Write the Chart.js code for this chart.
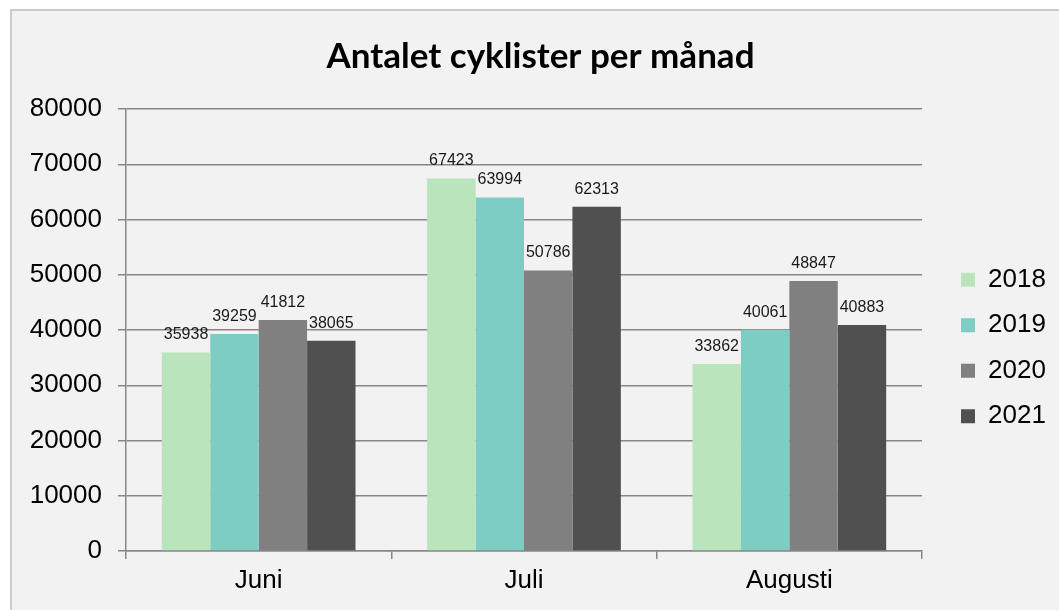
<!DOCTYPE html>
<html>
<head>
<meta charset="utf-8">
<script src="https://cdn.jsdelivr.net/npm/chart.js@4"></script>
<style>
  html, body { margin: 0; padding: 0; background: #fff; overflow: hidden; }
  #frame { position: absolute; left: 10px; top: 9px; width: 1200px; height: 800px; border: 2px solid #cbcbcb; background: #f2f2f2; }
  #chart { position: absolute; left: 0; top: 0; }
</style>
</head>
<body>
<div id="frame"></div>
<canvas id="chart" width="1059" height="610"></canvas>
<script>
const months = ["Juni", "Juli", "Augusti"]
const years = ["2018", "2019", "2020", "2021"]
const values2018 = [35938, 67423, 33862]
const values2019 = [39259, 63994, 40061]
const values2020 = [41812, 50786, 48847]
const values2021 = [38065, 62313, 40883]
const yMin = 0
const yMax = 80000
const yStep = 10000

const colors = ["#b9e4bc", "#7dcdc4", "#808080", "#505050"]
const gridColor = "#878787"
const textFont = "'Liberation Sans', Arial, sans-serif"

// värden ovanför staplarna
const barLabels = {
  id: "barLabels",
  afterDatasetsDraw(chart) {
    const ctx = chart.ctx
    ctx.save()
    ctx.font = "16px " + textFont
    ctx.fillStyle = "#1a1a1a"
    ctx.textAlign = "center"
    ctx.textBaseline = "alphabetic"
    chart.data.datasets.forEach((ds, i) => {
      chart.getDatasetMeta(i).data.forEach((bar, j) => {
        ctx.fillText(String(ds.data[j]), bar.x, bar.y - 13)
      })
    })
    ctx.restore()
  },
}

// flytta legenden och rubriken lite
const boxPlace = {
  id: "boxPlace",
  afterLayout(chart) {
    const lg = chart.legend
    const dx = 961 - lg.left - lg.options.labels.padding
    lg.left += dx
    lg.right += dx
    lg.top += 18
    lg.bottom += 18

    const t = chart.titleBlock
    const tx = 540.5 - (t.left + t.right) / 2
    t.left += tx
    t.right += tx
  },
}

const chart = new Chart(document.querySelector("#chart"), {
  type: "bar",
  data: {
    labels: months,
    datasets: [
      { label: years[0], data: values2018, backgroundColor: colors[0] },
      { label: years[1], data: values2019, backgroundColor: colors[1] },
      { label: years[2], data: values2020, backgroundColor: colors[2] },
      { label: years[3], data: values2021, backgroundColor: colors[3] },
    ],
  },
  options: {
    responsive: false,
    animation: false,
    categoryPercentage: 0.73,
    barPercentage: 1.0,
    layout: { padding: { left: 22, right: 0, top: 0, bottom: 0 } },
    plugins: {
      tooltip: { enabled: false },
      title: {
        display: true,
        text: "Antalet cyklister per månad",
        color: "#000",
        font: { family: "Lato", weight: "bold", size: 35 },
        padding: { top: 36, bottom: 31 },
      },
      legend: {
        position: "right",
        fullSize: false,
        labels: {
          boxWidth: 14,
          boxHeight: 14,
          padding: 19.5,
          color: "#000",
          font: { family: textFont, size: 26 },
        },
      },
    },
    scales: {
      x: {
        grid: { drawOnChartArea: false, drawTicks: true, tickLength: 8, color: gridColor, lineWidth: 1.5, offset: true },
        border: { display: true, color: gridColor, width: 1.5 },
        ticks: { color: "#000", font: { family: textFont, size: 26 }, padding: 6 },
        afterFit(scale) { scale.height = 59 },
      },
      y: {
        min: yMin,
        max: yMax,
        grid: { color: gridColor, lineWidth: 1.5, tickLength: 8 },
        border: { display: true, color: gridColor, width: 1.5 },
        ticks: {
          stepSize: yStep,
          color: "#000",
          padding: 16,
          font: { family: textFont, size: 26 },
          callback: (v) => String(v),
        },
        afterFit(scale) { scale.width = 104 },
      },
    },
  },
  plugins: [barLabels, boxPlace],
})

// höger kant på diagramytan vid 922 px
const fixRight = chart.chartArea.right - 922
if (Math.abs(fixRight) > 0.5) {
  chart.options.layout.padding.right += fixRight
  chart.update()
}
</script>
</body>
</html>
